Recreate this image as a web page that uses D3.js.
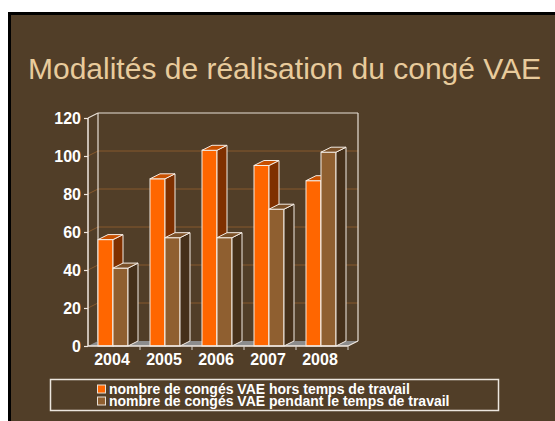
<!DOCTYPE html>
<html>
<head>
<meta charset="utf-8">
<script src="https://cdn.jsdelivr.net/npm/d3@7"></script>
<style>
  body { margin: 0; background: #fff; }
  svg { display: block; font-family: Arial, "Liberation Sans", sans-serif; }
</style>
</head>
<body>
<div id="chart"></div>
<script>
// data
const years = ["2004", "2005", "2006", "2007", "2008"];
const horsTemps = [56, 88, 103, 95, 87];
const pendantTemps = [41, 57, 57, 72, 102];
const yTicks = [0, 20, 40, 60, 80, 100, 120];
const seriesNames = [
	"nombre de congés VAE hors temps de travail",
	"nombre de congés VAE pendant le temps de travail"
];

const W = 555, H = 421;
const depth = { dx: 10, dy: -5 };

const colors = [
	{ front: "#ff6600", side: "#7f3000", top: "#c85000" },
	{ front: "#8f5f30", side: "#45301a", top: "#7a5028" }
];

const svg = d3.select("#chart").append("svg")
	.attr("width", W)
	.attr("height", H);

// slide background with its black border (top/left only visible)
svg.append("rect")
	.attr("x", 9.5).attr("y", 13.5)
	.attr("width", 600).attr("height", 500)
	.attr("fill", "#513e28")
	.attr("stroke", "#000")
	.attr("stroke-width", 3);

// title
svg.append("text")
	.attr("x", 28)
	.attr("y", 79)
	.attr("fill", "#e8cb9c")
	.style("font-size", "30px")
	.text("Modalités de réalisation du congé VAE");

// scales
const x = d3.scaleBand().domain(years).range([88, 348]);
const y = d3.scaleLinear().domain([0, 120]).range([346, 118]);

const g = svg.append("g");
const pt = (a, b) => a + "," + b;

// floor
g.append("polygon")
	.attr("points", [pt(88, y(0)), pt(348, y(0)), pt(348 + depth.dx, y(0) + depth.dy), pt(88 + depth.dx, y(0) + depth.dy)].join(" "))
	.attr("fill", "#8c8c8c");

// gridlines: back wall + side wall
yTicks.filter(v => v > 0 && v < 120).forEach(v => {
	g.append("line")
		.attr("x1", 88 + depth.dx).attr("x2", 348 + depth.dx)
		.attr("y1", y(v) + depth.dy).attr("y2", y(v) + depth.dy)
		.attr("stroke", "#87592c").attr("stroke-width", 1);
	g.append("line")
		.attr("x1", 88).attr("x2", 88 + depth.dx)
		.attr("y1", y(v)).attr("y2", y(v) + depth.dy)
		.attr("stroke", "#87592c").attr("stroke-width", 1);
});

// wall outlines
const wallLines = [
	[88 + depth.dx, y(120) + depth.dy, 348 + depth.dx, y(120) + depth.dy],
	[348 + depth.dx, y(120) + depth.dy, 348 + depth.dx, y(0) + depth.dy],
	[88 + depth.dx, y(120) + depth.dy, 88 + depth.dx, y(0) + depth.dy],
	[88, y(120), 88 + depth.dx, y(120) + depth.dy]
];
wallLines.forEach(l => {
	g.append("line")
		.attr("x1", l[0]).attr("y1", l[1]).attr("x2", l[2]).attr("y2", l[3])
		.attr("stroke", "#e8e0d6").attr("stroke-width", 1.2);
});

// bars
const barW = 15;
const series = [horsTemps, pendantTemps];
years.forEach((yr, i) => {
	series.forEach((vals, s) => {
		const x0 = x(yr) + 10 + s * barW;
		const x1 = x0 + barW;
		const yt = y(vals[i]), yb = y(0);
		const c = colors[s];
		// front
		g.append("rect")
			.attr("x", x0).attr("y", yt)
			.attr("width", barW).attr("height", yb - yt)
			.attr("fill", c.front)
			.attr("stroke", "#f4ece4").attr("stroke-width", 1);
		// side
		g.append("polygon")
			.attr("points", [pt(x1, yt), pt(x1 + depth.dx, yt + depth.dy), pt(x1 + depth.dx, yb + depth.dy), pt(x1, yb)].join(" "))
			.attr("fill", c.side)
			.attr("stroke", "#f4ece4").attr("stroke-width", 1);
		// top
		g.append("polygon")
			.attr("points", [pt(x0, yt), pt(x0 + depth.dx, yt + depth.dy), pt(x1 + depth.dx, yt + depth.dy), pt(x1, yt)].join(" "))
			.attr("fill", c.top)
			.attr("stroke", "#f4ece4").attr("stroke-width", 1);
	});
});

// front axes
g.append("line")
	.attr("x1", 88).attr("x2", 88).attr("y1", y(120)).attr("y2", y(0))
	.attr("stroke", "#f0e8e0").attr("stroke-width", 1.5);
g.append("line")
	.attr("x1", 88).attr("x2", 348).attr("y1", y(0)).attr("y2", y(0))
	.attr("stroke", "#f0e8e0").attr("stroke-width", 1.5);
g.append("line")
	.attr("x1", 348).attr("x2", 348 + depth.dx).attr("y1", y(0)).attr("y2", y(0) + depth.dy)
	.attr("stroke", "#f0e8e0").attr("stroke-width", 1.2);

// y axis ticks and labels
const yAxis = d3.axisLeft(y).tickValues(yTicks).tickSize(4).tickPadding(3);
const yAxisG = g.append("g").attr("transform", "translate(88,0)").call(yAxis);
yAxisG.select(".domain").remove();
yAxisG.selectAll("line").attr("stroke", "#f0e8e0").attr("stroke-width", 1.2);
yAxisG.selectAll("text")
	.attr("fill", "#fff")
	.style("font-size", "16px")
	.style("font-weight", "bold")
	.style("font-family", "Arial, 'Liberation Sans', sans-serif");

// x axis ticks at category boundaries and labels
const xAxis = d3.axisBottom(x).tickSize(0).tickPadding(8);
const xAxisG = g.append("g").attr("transform", "translate(-2," + y(0) + ")").call(xAxis);
xAxisG.select(".domain").remove();
xAxisG.selectAll("text")
	.attr("fill", "#fff")
	.style("font-size", "16px")
	.style("font-weight", "bold")
	.style("font-family", "Arial, 'Liberation Sans', sans-serif");
years.forEach((yr, i) => {
	const xb = x(yr) + x.bandwidth();
	g.append("line")
		.attr("x1", xb).attr("x2", xb).attr("y1", y(0)).attr("y2", y(0) + 4)
		.attr("stroke", "#d8d0c8").attr("stroke-width", 1);
});

// legend
const leg = svg.append("g");
leg.append("rect")
	.attr("x", 50.5).attr("y", 379.5)
	.attr("width", 448).attr("height", 31)
	.attr("fill", "none")
	.attr("stroke", "#ece6de").attr("stroke-width", 1.5);
seriesNames.forEach((name, s) => {
	const ly = 384.5 + s * 12;
	leg.append("rect")
		.attr("x", 97.5).attr("y", ly + 0.5)
		.attr("width", 8).attr("height", 8)
		.attr("fill", colors[s].front)
		.attr("stroke", "#e8e0d6").attr("stroke-width", 1);
	leg.append("text")
		.attr("x", 109).attr("y", ly + 9.5)
		.attr("fill", "#fff")
		.style("font-size", "14px")
		.style("font-weight", "bold")
		.text(name);
});
</script>
</body>
</html>
